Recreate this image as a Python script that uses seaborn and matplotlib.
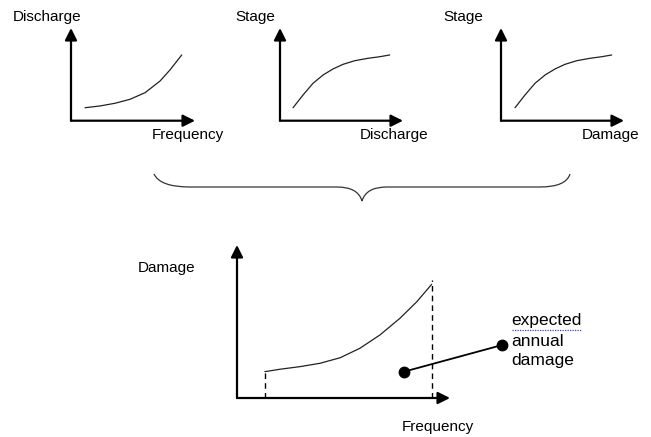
import matplotlib.pyplot as plt
import seaborn as sns
from matplotlib.path import Path
from matplotlib.patches import PathPatch

W, H = 651, 437

# curve shapes, each in its own panel's unit box (0,0 = axis corner)
freq_x = [0.113, 0.234, 0.355, 0.476, 0.597, 0.718, 0.798, 0.893]
discharge_y = [0.14, 0.159, 0.188, 0.231, 0.302, 0.428, 0.547, 0.709]

rating_x = [0.106, 0.187, 0.268, 0.350, 0.431, 0.512, 0.607, 0.715, 0.810, 0.892]
stage_y = [0.14, 0.277, 0.403, 0.493, 0.558, 0.608, 0.647, 0.673, 0.69, 0.709]

stage_dmg_x = [0.114, 0.195, 0.276, 0.358, 0.439, 0.52, 0.615, 0.723, 0.818, 0.9]

dmg_freq_x = [0.131, 0.202, 0.296, 0.390, 0.484, 0.577, 0.671, 0.765, 0.844, 0.914]
dmg_freq_y = [0.172, 0.188, 0.205, 0.227, 0.263, 0.325, 0.412, 0.521, 0.629, 0.743]

ead_point = (0.784, 0.172)
ead_label = (1.244, 0.346)

sns.set_theme(style="white")
plt.rcParams["font.family"] = ["Liberation Sans", "DejaVu Sans"]

fig = plt.figure(figsize=(W / 100, H / 100), dpi=100)
fig.patch.set_facecolor("white")

bg = fig.add_axes([0, 0, 1, 1])
bg.set_xlim(0, W)
bg.set_ylim(H, 0)
bg.axis("off")


def px_axes(left, bottom, right, top):
    ax = fig.add_axes([left / W, 1 - bottom / H, (right - left) / W, (bottom - top) / H])
    ax.set_xlim(0, 1)
    ax.set_ylim(0, 1)
    ax.axis("off")
    ax.patch.set_alpha(0)
    arrow = dict(arrowstyle="-|>,head_length=0.6,head_width=0.3", color="black",
                 lw=1.6, shrinkA=0, shrinkB=0)
    ax.annotate("", xy=(1, 0), xytext=(0, 0), xycoords="axes fraction", arrowprops=arrow)
    ax.annotate("", xy=(0, 1), xytext=(0, 0), xycoords="axes fraction", arrowprops=arrow)
    return ax


curve_kw = dict(color="#222222", linewidth=0.9, legend=False)

ax1 = px_axes(71, 120.7, 195, 28)
sns.lineplot(x=freq_x, y=discharge_y, ax=ax1, **curve_kw)

ax2 = px_axes(280, 120.7, 403, 28)
sns.lineplot(x=rating_x, y=stage_y, ax=ax2, **curve_kw)

ax3 = px_axes(501, 120.7, 624, 28)
sns.lineplot(x=stage_dmg_x, y=stage_y, ax=ax3, **curve_kw)

ax4 = px_axes(237, 398, 450, 245)
sns.lineplot(x=dmg_freq_x, y=dmg_freq_y, ax=ax4, **curve_kw)
ax4.plot([dmg_freq_x[0]] * 2, [0, dmg_freq_y[0]], color="black", lw=1, ls=(0, (4, 3)))
ax4.plot([dmg_freq_x[-1]] * 2, [0, dmg_freq_y[-1] + 0.027], color="black", lw=1, ls=(0, (4, 3)))
ax4.plot([ead_point[0], ead_label[0]], [ead_point[1], ead_label[1]], color="black", lw=1.3,
         marker="o", markersize=7.5, clip_on=False)

# brace joining the three relations
verts = [(154, 174), (160, 187), (190, 187), (337, 187), (358, 187), (362, 201),
         (366, 187), (387, 187), (540, 187), (566, 187), (570, 174)]
codes = [Path.MOVETO, Path.CURVE3, Path.CURVE3, Path.LINETO, Path.CURVE3, Path.CURVE3,
         Path.CURVE3, Path.CURVE3, Path.LINETO, Path.CURVE3, Path.CURVE3]
bg.add_patch(PathPatch(Path(verts, codes), facecolor="none", edgecolor="#333333", lw=0.9))

labels = [
    ("Discharge", 13, 17), ("Frequency", 152, 135),
    ("Stage", 235, 17), ("Discharge", 360, 135),
    ("Stage", 443, 17), ("Damage", 582, 135),
    ("Damage", 138, 268), ("Frequency", 402, 427),
]
for txt, x, y in labels:
    bg.text(x, y, txt, fontsize=11, ha="left", va="center", color="black")

for txt, y in [("expected", 321), ("annual", 341), ("damage", 361)]:
    bg.text(511, y, txt, fontsize=12.5, ha="left", va="center", color="black")

bg.plot([512, 581], [330, 330], color="#3344cc", lw=0.9, ls=(0, (1, 1)))

fig.savefig("out.png", dpi=100)
